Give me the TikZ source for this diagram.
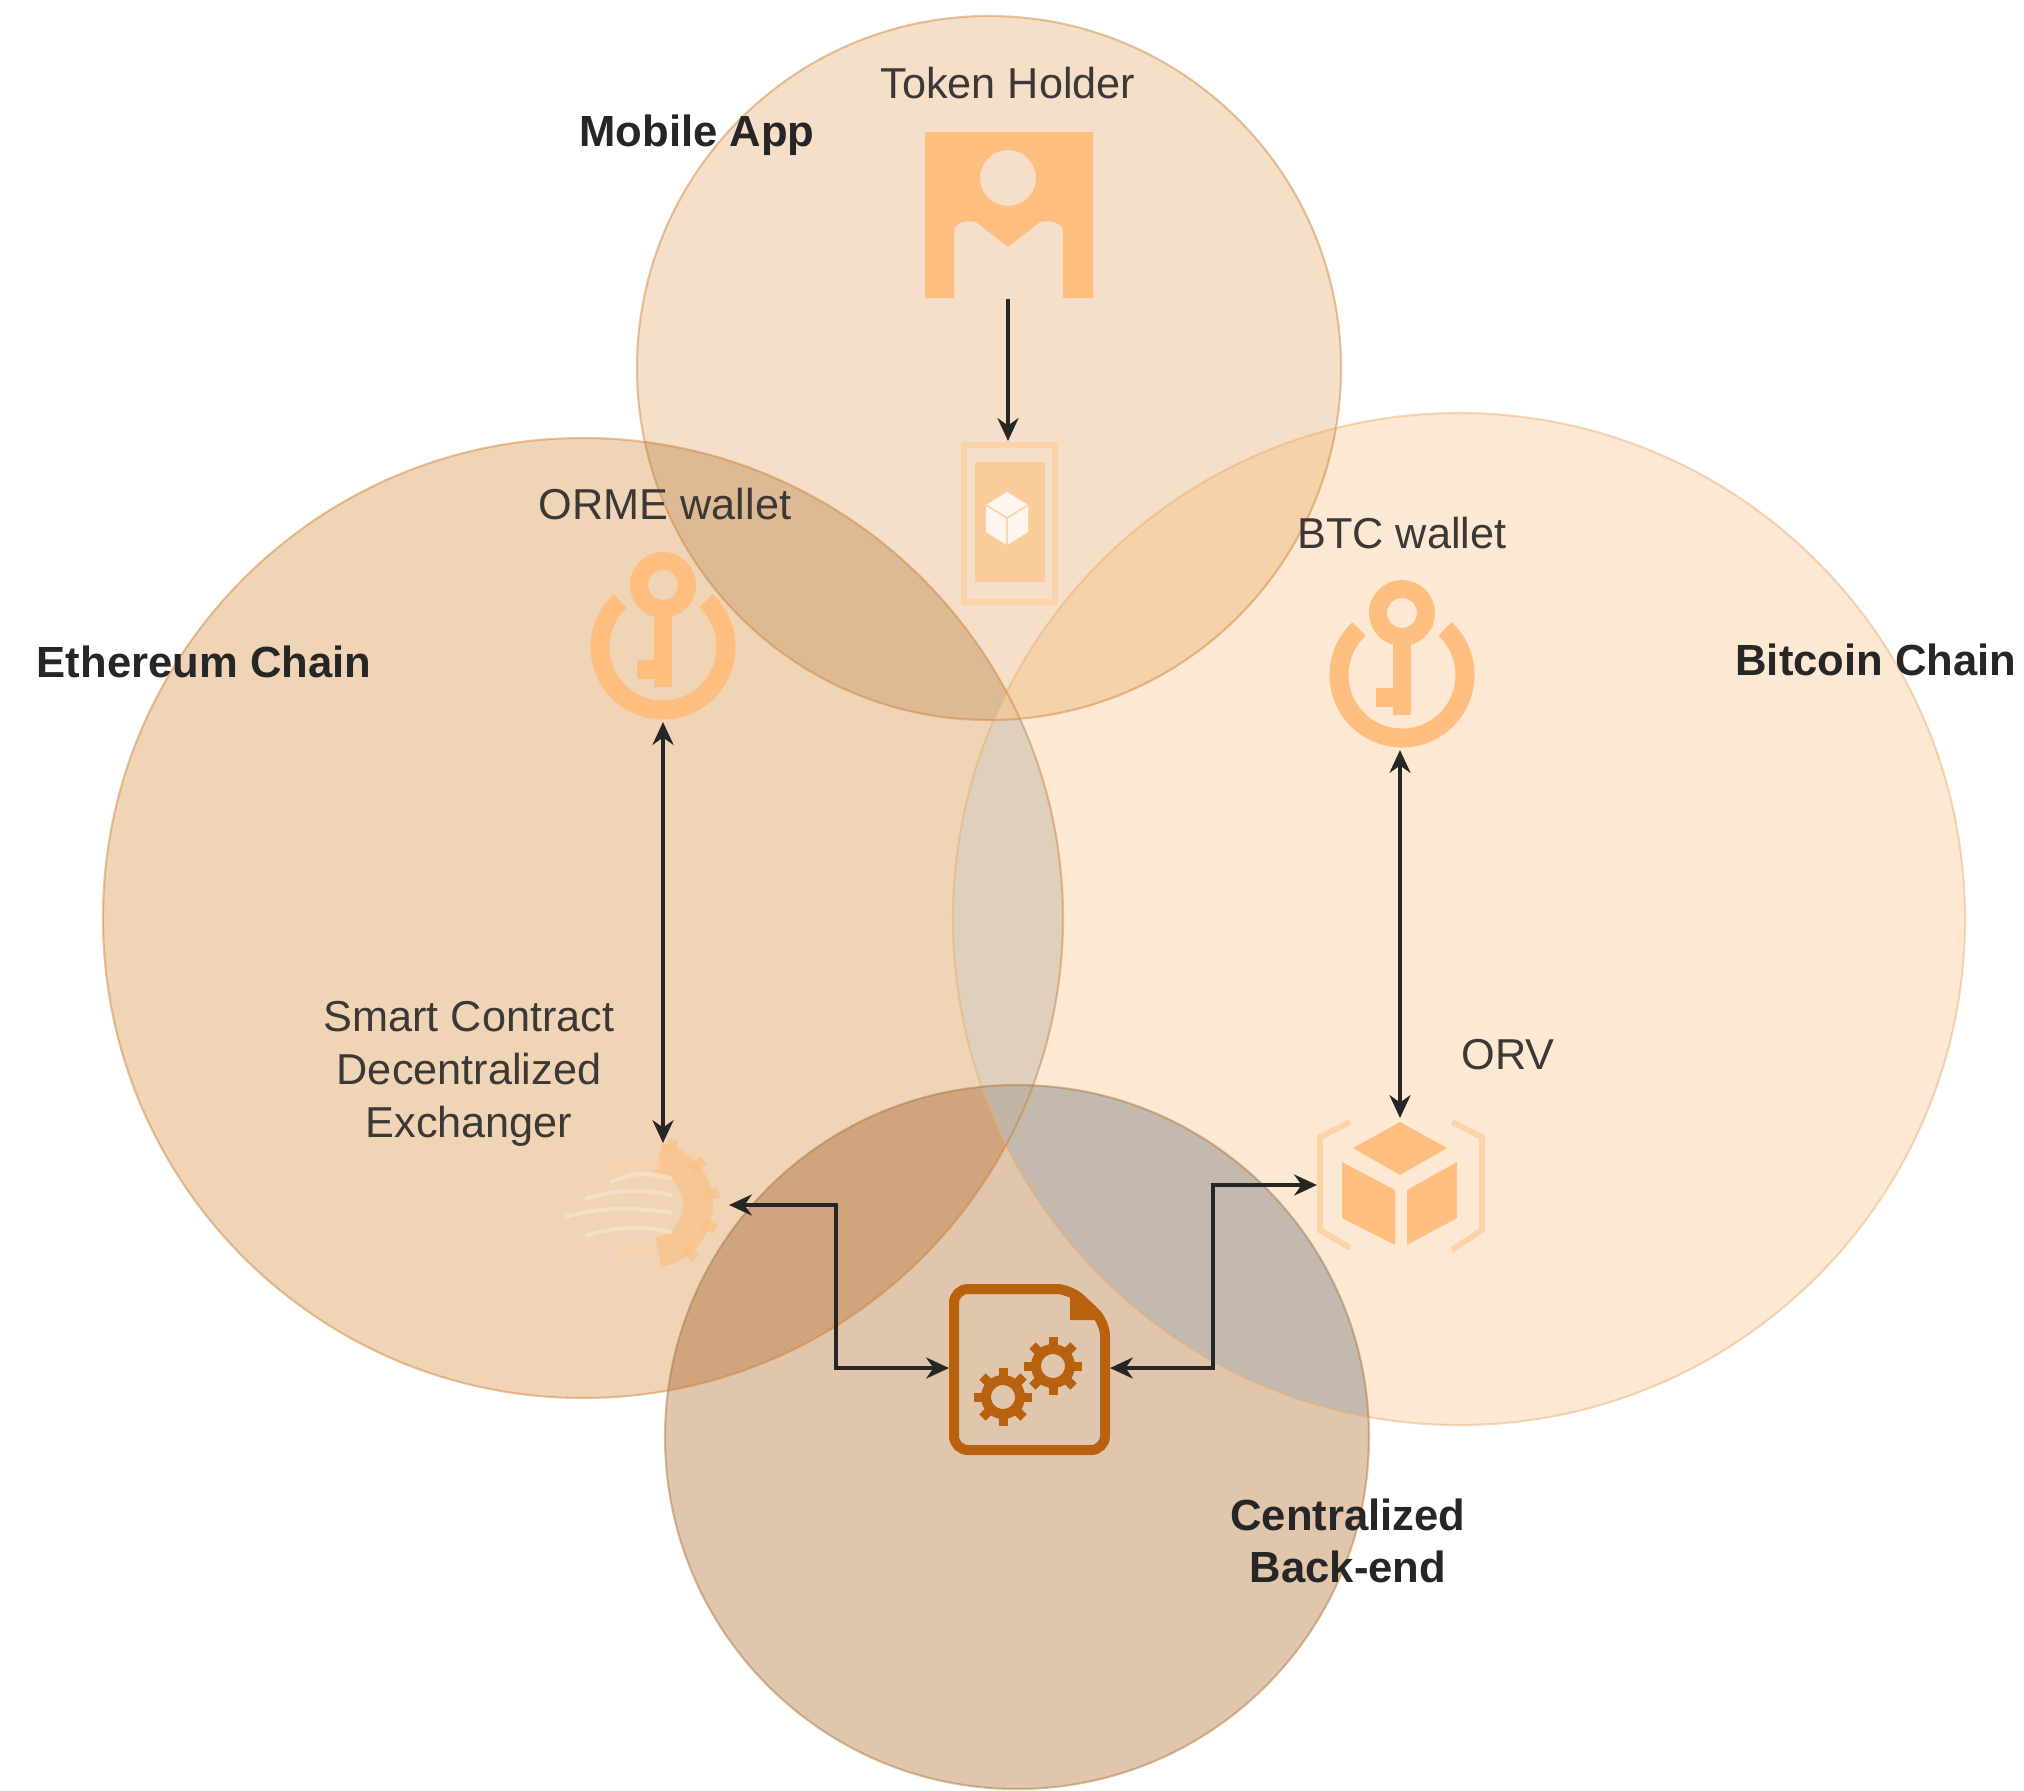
\documentclass[tikz,border=0pt]{standalone}
\usepackage{fontspec}
\setmainfont{Liberation Sans}
\usetikzlibrary{arrows.meta,positioning}

\definecolor{iconlight}{HTML}{FDBE80}
\definecolor{iconpale}{HTML}{FBD3A8}
\definecolor{icondark}{HTML}{B8620F}
\definecolor{labelgray}{HTML}{3C3836}
\definecolor{btcfill}{HTML}{FDE8D3}
\definecolor{ethfill}{HTML}{F0D4B6}
\definecolor{mobilefill}{HTML}{F6DFC9}
\definecolor{backfill}{HTML}{DFC6AC}
\definecolor{mobilebtc}{HTML}{F5D2AA}
\definecolor{mobileeth}{HTML}{DDBA94}
\definecolor{ethbtc}{HTML}{DFD0BD}
\definecolor{ethbtcmobile}{HTML}{EEC89E}
\definecolor{backbtc}{HTML}{C4B9AE}
\definecolor{backeth}{HTML}{D0A57D}
\definecolor{backethbtc}{HTML}{C2B5A5}

\def\mobilearea{(989,368) circle (352)}
\def\etharea{(583,918) circle (480)}
\def\btcarea{(1459,919) circle (506)}
\def\backarea{(1017,1437) circle (352)}

\tikzset{
  >={Stealth[length=6.5pt,width=6pt]},
  iconbox/.style={inner sep=0pt, outer sep=0pt},
  plainlabel/.style={text=labelgray, font=\fontsize{12.3}{15}\selectfont, align=center},
  boldlabel/.style={text=black!85, font=\fontsize{12.4}{15}\selectfont\bfseries, align=center},
  link/.style={line width=1pt, black!85},
  rim/.style={line width=0.6pt, draw opacity=0.45},
  keyicon/.pic={
    \draw[iconlight, line width=0.19cm] (0,0) ++(-47:63) arc (-47:227:63);
    \draw[iconlight, line width=0.18cm] (0,-62) circle (24);
    \fill[iconlight] (-9,-38) rectangle (9,40);
    \fill[iconlight] (-26,13) rectangle (0,32);
  },
  gearicon/.pic={
    \draw[icondark, line width=0.1cm] (0,0) circle (17);
    \foreach \a in {0,45,...,315}
      \draw[icondark, line width=0.09cm] (\a:20) -- (\a:29);
  }
}

\begin{document}
\begin{tikzpicture}[x=0.01cm, y=-0.01cm]
  \useasboundingbox (0,0) rectangle (2024,1790);
  \fill[white] (0,0) rectangle (2024,1790);

  % the four chains
  \fill[btcfill] \btcarea;
  \fill[ethfill] \etharea;
  \fill[mobilefill] \mobilearea;
  \fill[backfill] \backarea;

  % overlaps
  \begin{scope}
    \clip \mobilearea;
    \fill[mobilebtc] \btcarea;
    \fill[mobileeth] \etharea;
  \end{scope}
  \begin{scope}
    \clip \etharea;
    \clip \btcarea;
    \fill[ethbtc] (0,0) rectangle (2024,1790);
    \clip \mobilearea;
    \fill[ethbtcmobile] (0,0) rectangle (2024,1790);
  \end{scope}
  \begin{scope}
    \clip \backarea;
    \fill[backbtc] \btcarea;
    \fill[backeth] \etharea;
    \clip \etharea;
    \fill[backethbtc] \btcarea;
  \end{scope}

  % outlines
  \draw[rim, draw=iconlight!70!brown] \btcarea;
  \draw[rim, draw=brown!80!orange] \etharea;
  \draw[rim, draw=brown!80!orange] \mobilearea;
  \draw[rim, draw=brown!90!black] \backarea;

  \node[iconbox, minimum width=1.68cm, minimum height=1.67cm] (holder) at (1008,215) {};
  \node[iconbox, minimum width=0.95cm, minimum height=1.62cm] (phone) at (1008,522) {};
  \node[iconbox, minimum width=1.46cm, minimum height=1.7cm] (ormekey) at (663,637) {};
  \node[iconbox, minimum width=1.46cm, minimum height=1.7cm] (btckey) at (1400,665) {};
  \node[iconbox, minimum width=1.32cm, minimum height=1.24cm] (exchange) at (663,1205) {};
  \node[iconbox, minimum width=1.66cm, minimum height=1.34cm] (orv) at (1400,1185) {};
  \node[iconbox, minimum width=1.61cm, minimum height=1.71cm] (backend) at (1029.5,1368) {};

  % token holder
  \fill[iconlight, even odd rule]
    (925,132) -- (1093,132) -- (1093,298) -- (1063,298) -- (1063,232)
    .. controls (1063,222) and (1050,220) .. (1040,222) -- (1008,247) -- (976,222)
    .. controls (966,220) and (954,222) .. (954,232) -- (954,298) -- (925,298) -- cycle
    (1008,178) circle (28);

  % phone
  \draw[iconpale, line width=0.06cm] (964,445) rectangle (1055,602);
  \fill[iconpale!92!orange] (975,462) rectangle (1045,582);
  \fill[white!80!iconpale] (1007,492) -- (1028,505) -- (1028,532) -- (1007,545) -- (986,532) -- (986,505) -- cycle;
  \draw[iconpale, line width=0.5pt] (986,505) -- (1007,518) -- (1028,505) (1007,518) -- (1007,545);

  % wallets
  \pic at (663,647) {keyicon};
  \pic at (1402,675) {keyicon};

  % exchanger
  \begin{scope}[opacity=0.6]
    \draw[iconlight, line width=0.3cm] (650,1205) ++(-80:48) arc (-80:80:48);
    \foreach \a in {-70,-40,...,70}
      \draw[iconlight, line width=0.1cm] (650,1205) ++(\a:55) -- ++(\a:15);
    \draw[iconlight!70!white, line width=0.09cm] (605,1165) -- (660,1165);
    \draw[iconlight!70!white, line width=0.09cm] (615,1250) -- (655,1250);
  \end{scope}
  \foreach \y/\s in {1178/610,1195/585,1213/565,1232/585}
    \draw[white!55!iconpale, line width=0.04cm, opacity=0.5] (\s,\y+4) .. controls (\s+30,\y-6) and (640,\y-6) .. (672,\y);

  % vault
  \fill[iconlight] (1353,1148) -- (1400,1122) -- (1447,1148) -- (1400,1175) -- cycle;
  \fill[iconlight] (1342,1162) -- (1395,1190) -- (1395,1245) -- (1342,1218) -- cycle;
  \fill[iconlight] (1407,1190) -- (1457,1162) -- (1457,1218) -- (1407,1245) -- cycle;
  \draw[iconpale, line width=0.06cm] (1350,1122) -- (1320,1137) -- (1320,1230) -- (1350,1248);
  \draw[iconpale, line width=0.06cm] (1452,1122) -- (1482,1137) -- (1482,1230) -- (1452,1250);

  % back-end document
  \draw[icondark, line width=0.1cm, rounded corners=0.14cm]
    (954,1289) -- (1070,1289) -- (1105,1322) -- (1105,1450) -- (954,1450) -- cycle;
  \fill[icondark] (1070,1292) -- (1070,1320) -- (1103,1320) -- cycle;
  \pic at (1003,1397) {gearicon};
  \pic at (1053,1366) {gearicon};

  % connectors
  \draw[->, link] (holder.south) -- (phone.north);
  \draw[<->, link] (ormekey.south) -- (exchange.north);
  \draw[<->, link] (btckey.south) -- (orv.north);
  \draw[<->, link] (exchange.east) -- ++(107,0) |- (backend.west);
  \draw[<->, link] (backend.east) -- ++(103,0) |- (orv.west);

  % labels
  \node[boldlabel] (mobilelabel) at (697,135) {Mobile App};
  \node[plainlabel] (holderlabel) at (1008,83) {Token Holder};
  \node[plainlabel] (ormelabel) at (665,504) {ORME wallet};
  \node[plainlabel] (btclabel) at (1402,533) {BTC wallet};
  \node[boldlabel] (ethlabel) at (204,662) {Ethereum Chain};
  \node[boldlabel] (bitcoinlabel) at (1876,660) {Bitcoin Chain};
  \node[plainlabel] (dexlabel) at (469,1074) {Smart Contract\\Decentralized\\Exchanger};
  \node[plainlabel] (orvlabel) at (1508,1055) {ORV};
  \node[boldlabel] (backlabel) at (1348,1541) {Centralized\\Back-end};
\end{tikzpicture}
\end{document}
